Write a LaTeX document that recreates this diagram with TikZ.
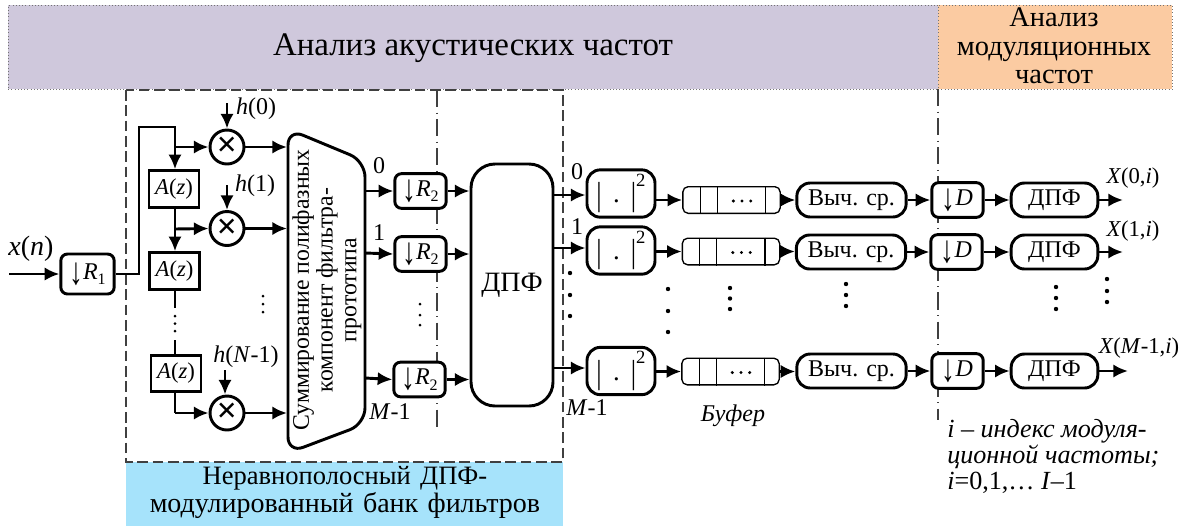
\documentclass[tikz,border=0pt]{standalone}
\usepackage{fontspec}
\setmainfont{Liberation Serif}
\usetikzlibrary{arrows.meta}
\definecolor{hdrpurple}{HTML}{CFC8DC}
\definecolor{hdrorange}{HTML}{FBCBA2}
\definecolor{hdrblue}{HTML}{A6E3FB}
\newcommand{\fs}[1]{\fontsize{#1}{#1}\selectfont}
\newcommand{\subt}[1]{\raisebox{-0.22em}{\fs{12}#1}}
\newcommand{\darr}{\raisebox{-0.2em}{\scalebox{1.15}[1.6]{↓}}}
\newcommand{\downR}[1]{\fs{18}\darr\textit{R}\subt{#1}}
\newcommand{\downD}{\fs{18}\darr\textit{D}}
\newcommand{\tbar}{\raisebox{-0.12em}{\scalebox{1}[1.25]{|}}}
\newcommand{\absq}{\fs{20}\tbar\hspace{0.42em}.\hspace{0.42em}\tbar\raisebox{0.62em}{\fs{14}2}}
\newcommand{\az}{\fs{17}\textit{A}(\textit{z})}
\newcommand{\vdotsat}[4]{\fill (#1,#2) circle (2.2) (#1,#3) circle (2.2) (#1,#4) circle (2.2);}
\newcommand{\sdotsat}[4]{\fill (#1,#2) circle (1.5) (#1,#3) circle (1.5) (#1,#4) circle (1.5);}
\newcommand{\mulx}{\fs{27}\bfseries ×}
\tikzset{
  x=0.75pt,y=-0.75pt,
  wire/.style={line width=2.2pt},
  arr/.style={line width=2.2pt,-{Latex[length=11pt,width=10pt]}},
  band/.style={draw=black!55,line width=0.4pt,dotted},
  rbox/.style={draw,fill=white,line width=2.2pt,rounded corners=5pt,inner sep=0pt,align=center},
  sqbox/.style={draw,fill=white,line width=2.2pt,inner sep=0pt,minimum width=37.5pt,minimum height=27.5pt},
  mul/.style={draw,fill=white,circle,line width=2.2pt,inner sep=0pt,minimum size=25.5pt},
  rdn/.style={rbox,minimum width=38.5pt,minimum height=26pt},
  sq/.style={rbox,rounded corners=10pt,minimum width=51pt,minimum height=35.5pt},
  calc/.style={rbox,rounded corners=10pt,minimum width=82pt,minimum height=25.5pt,font=\fs{18}},
  dft/.style={rbox,rounded corners=10pt,minimum width=65pt,minimum height=25.5pt,font=\fs{18}},
  buf/.style={draw,fill=white,line width=1pt,rounded corners=4pt,inner sep=0pt,minimum width=73pt,minimum height=20pt},
  lbl/.style={inner sep=0pt,font=\fs{18}},
  bigtxt/.style={inner sep=0pt,align=center,font=\fs{22}},
  ddline/.style={line width=1pt,black!75,dash pattern=on 13pt off 4pt on 0.8pt off 4pt},
  dline/.style={line width=1pt,black!75,dash pattern=on 8pt off 3.5pt},
}
\begin{document}
\begin{tikzpicture}
\useasboundingbox (0,0) rectangle (1189,526);
% header bands
\node[band,fill=hdrpurple,minimum width=697.5pt,minimum height=63pt,inner sep=0pt,anchor=north west] (hdrA) at (8,5) {};
\node[band,fill=hdrorange,minimum width=175.5pt,minimum height=63pt,inner sep=0pt,anchor=north west] (hdrB) at (938,5) {};
\node[bigtxt,font=\fs{24.7}] (hdrAtxt) at (473,48) {Анализ акустических частот};
\node[bigtxt,font=\fs{21.3},text width=175pt] (hdrBtxt) at (1054,46) {\baselineskip=21.5pt Анализ\\модуляционных\\частот};
\node[fill=hdrblue,minimum width=327.75pt,minimum height=48pt,inner sep=0pt,anchor=north west] (hdrC) at (126,462) {};
\node[bigtxt,font=\fs{21},text width=320pt] (hdrCtxt) at (345,492) {\baselineskip=22.5pt {\fs{19.9}Неравнополосный ДПФ-}\hspace*{10.5pt}\\модулированный банк фильтров};
% frames
\coordinate (fTL) at (126,90);
\coordinate (fBR) at (563,462);
\draw[dline] (fTL) rectangle (fBR);
\coordinate (m1a) at (437,90); \coordinate (m1b) at (437,430);
\draw[ddline] (m1a) -- (m1b);
\coordinate (m2a) at (938,89); \coordinate (m2b) at (938,420);
\draw[ddline] (m2a) -- (m2b);
% input
\node[rdn,minimum width=40pt,minimum height=30pt] (r1) at (87.5,274) {\downR{1}};
\coordinate (xin) at (9,274);
\node[lbl,font=\fs{21}] (xlab) at (31,249) {\textit{x}(\textit{n})};
\draw[arr] (xin) -- (r1.west);
% polyphase chain
\node[sqbox] (a1) at (174,189) {\az};
\node[sqbox] (a2) at (174.5,271) {\az};
\node[sqbox] (a3) at (176,373.5) {\az};
\node[mul] (m1) at (227,147) {\mulx};
\node[mul] (m2) at (227,228.5) {\mulx};
\node[mul] (m3) at (227,413) {\mulx};
\coordinate (up1) at (139,274);
\coordinate (up2) at (139,127);
\coordinate (up3) at (175,127);
\coordinate (t1) at (175,147);
\coordinate (t2) at (175,229);
\draw[wire,line join=miter] (r1.east) -- (up1) -- (up2) -- (up3) -- (t1);
\draw[arr] (up3) -- (a1.north -| up3);
\draw[arr] (t1) -- (m1.west);
\draw[arr] (a1.south -| t2) -- (a2.north -| t2);
\draw[arr] (t2) -- (m2.west);
\coordinate (c2a) at (175,308);
\coordinate (c2b) at (175,340);
\draw[wire] (a2.south -| c2a) -- (c2a);
\draw[wire] (c2b) -- (a3.north -| c2b);
\coordinate (c3) at (175,413);
\draw[wire] (a3.south -| c3) -- (c3);
\draw[arr] (c3) -- (m3.west);
\sdotsat{175}{316}{323.5}{331}
\sdotsat{263}{296}{304}{312}
\coordinate (h0) at (227,103);
\coordinate (h1) at (227,185);
\coordinate (h2) at (225,370);
\draw[arr] (h0) -- (m1.north);
\draw[arr] (h1) -- (m2.north);
\draw[arr] (h2) -- (m3.north -| h2);
\node[lbl,font=\fs{18}] (hl0) at (256,109) {\textit{h}(0)};
\node[lbl,font=\fs{18}] (hl1) at (255,186) {\textit{h}(1)};
\node[lbl,font=\fs{18}] (hl2) at (246,357) {\textit{h}(\textit{N}-1)};
% summation block
\draw[line width=2.2pt,fill=white,rounded corners=12pt] (288,129) -- (365,161) -- (365,424) -- (288,453) -- cycle;
\node[inner sep=0pt,rotate=90,align=center,font=\fs{17.8}] (sum) at (327,290) {\baselineskip=19pt Суммирование полифазных\\компонент фильтра-\\прототипа};
\coordinate (s1) at (287,147); \coordinate (s2) at (287,228.5); \coordinate (s3) at (287,413);
\draw[arr] (m1.east) -- (s1);
\draw[arr] (m2.east) -- (s2);
\draw[arr] (m3.east) -- (s3);
% R2 decimators
\node[rdn] (d1) at (420.5,191) {\downR{2}};
\node[rdn] (d2) at (420.5,254) {\downR{2}};
\node[rdn] (d3) at (419.5,379.5) {\downR{2}};
\coordinate (o1) at (365,191); \coordinate (o2) at (365,253); \coordinate (o3) at (365,378);
\draw[arr] (o1) -- (d1.west);
\draw[arr] (o2) -- (d2.west);
\draw[arr] (o3) -- (d3.west);
\node[lbl] (l0a) at (379,166) {0};
\node[lbl] (l1a) at (379,233) {1};
\node[lbl] (lMa) at (390,412) {\textit{M}-1};
\sdotsat{420}{304}{315}{325}
% DFT
\node[rbox,rounded corners=18pt,minimum width=61.5pt,minimum height=181.5pt,font=\fs{21}] (dpf) at (512,285) {ДПФ};
\draw[arr] (d1.east) -- (d1.east -| dpf.west);
\draw[arr] (d2.east) -- (d2.east -| dpf.west);
\draw[arr] (d3.east) -- (d3.east -| dpf.west);
% squares
\node[sq] (q1) at (621,193.5) {\absq};
\node[sq] (q2) at (621,250.5) {\absq};
\node[sq] (q3) at (621,371) {\absq};
\coordinate (e1) at (553,195); \coordinate (e2) at (553,248); \coordinate (e3) at (553,368);
\draw[arr] (e1) -- (e1 -| q1.west);
\draw[arr] (e2) -- (e2 -| q2.west);
\draw[arr] (e3) -- (e3 -| q3.west);
\node[lbl] (l0b) at (577,172) {0};
\node[lbl] (l1b) at (577,227) {1};
\node[lbl] (lMb) at (587,408) {\textit{M}-1};
\vdotsat{570}{273}{295}{316}
\vdotsat{668}{289}{311}{332}
% buffers
\foreach \n/\xx/\yy in {b1/731.5/200,b2/731/251.5,b3/730.5/371.5}{
  \node[buf] (\n) at (\xx,\yy) {};
  \draw[line width=1pt] ([xshift=13.5pt]\n.north west) -- ([xshift=13.5pt]\n.south west)
     ([xshift=26.25pt]\n.north west) -- ([xshift=26.25pt]\n.south west)
     ([xshift=-11.5pt]\n.north east) -- ([xshift=-11.5pt]\n.south east);
  \fill (\xx-8.7+10.5,\yy+1) circle (1.7) (\xx+10.5,\yy+1) circle (1.7) (\xx+8.7+10.5,\yy+1) circle (1.7);
}
\draw[arr] (q1.east |- b1.west) -- (b1.west);
\draw[arr] (q2.east |- b2.west) -- (b2.west);
\draw[arr] (q3.east |- b3.west) -- (b3.west);
\node[lbl,font=\fs{18}\itshape] (buflab) at (733,416) {Буфер};
\vdotsat{730}{288}{298.5}{309}
% averaging
\node[calc] (c1) at (851.5,200) {Выч. ср.};
\node[calc] (c2) at (851,252) {Выч. ср.};
\node[calc] (c3) at (851.5,371) {Выч. ср.};
\draw[arr] (b1.east) -- (b1.east -| c1.west);
\draw[arr] (b2.east) -- (b2.east -| c2.west);
\draw[arr] (b3.east) -- (b3.east -| c3.west);
\vdotsat{846}{284}{295}{306}
% D decimators
\node[rdn] (g1) at (957.5,200) {\downD};
\node[rdn] (g2) at (956.5,252) {\downD};
\node[rdn] (g3) at (957.5,371) {\downD};
\draw[arr] (c1.east) -- (g1.west);
\draw[arr] (c2.east) -- (g2.west);
\draw[arr] (c3.east) -- (g3.west);
% modulation DFT
\node[dft] (f1) at (1054.5,200) {ДПФ};
\node[dft] (f2) at (1054.5,252) {ДПФ};
\node[dft] (f3) at (1054.5,371) {ДПФ};
\draw[arr] (g1.east) -- (f1.west);
\draw[arr] (g2.east) -- (f2.west);
\draw[arr] (g3.east) -- (f3.west);
\coordinate (x1) at (1123,200); \coordinate (x2) at (1123,252); \coordinate (x3) at (1128,371);
\draw[arr] (f1.east) -- (x1);
\draw[arr] (f2.east) -- (x2);
\draw[arr] (f3.east) -- (x3);
\node[lbl,font=\fs{17}] (xl1) at (1133,178) {\textit{X}(0,\textit{i})};
\node[lbl,font=\fs{17}] (xl2) at (1133,231) {\textit{X}(1,\textit{i})};
\node[lbl,font=\fs{17}] (xl3) at (1139,348) {\textit{X}(\textit{M}-1,\textit{i})};
\vdotsat{1056}{287}{298}{309}
\vdotsat{1107}{279}{291}{302}
% note
\node[inner sep=0pt,anchor=north west,align=left,font=\fs{19.6}] (note) at (947,419)
 {\baselineskip=17.3pt \textit{i – индекс модуля-}\\\textit{ционной частоты;}\\\textit{i}=0,1,… \textit{I}–1};
\end{tikzpicture}
\end{document}
